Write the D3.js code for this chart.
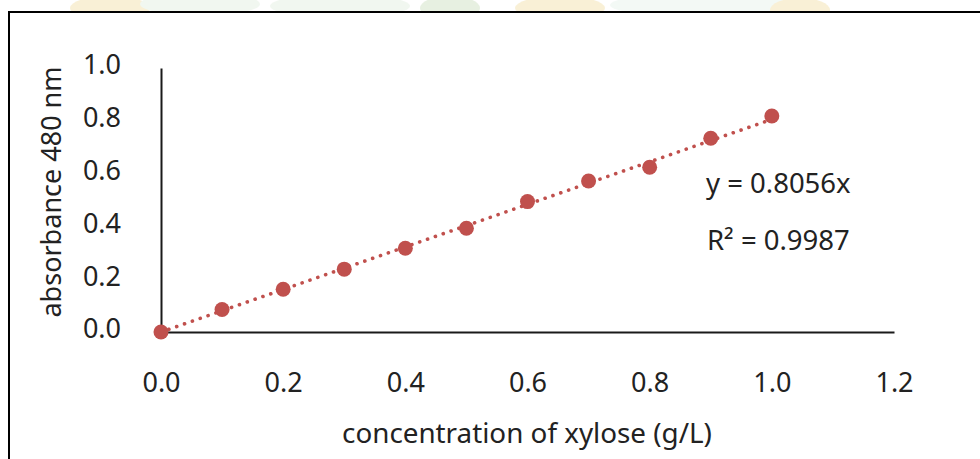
<!DOCTYPE html>
<html>
<head>
<meta charset="utf-8">
<script src="https://cdn.jsdelivr.net/npm/d3@7"></script>
<style>
  body { margin: 0; background: #fff; }
  svg text { font-family: "Noto Sans", "Open Sans", sans-serif; fill: #222; }
</style>
</head>
<body>
<svg id="chart" width="980" height="459"></svg>
<script>
const concentration = [0.0, 0.1, 0.2, 0.3, 0.4, 0.5, 0.6, 0.7, 0.8, 0.9, 1.0];
const absorbance = [0.0, 0.085, 0.162, 0.238, 0.317, 0.393, 0.494, 0.572, 0.624, 0.734, 0.818];
const xTicks = [0, 0.2, 0.4, 0.6, 0.8, 1.0, 1.2];
const yTicks = [0, 0.2, 0.4, 0.6, 0.8, 1.0];
const slope = 0.8056;
const rSquared = 0.9987;

const svg = d3.select('#chart');
const red = '#C0504D';
const fs = 27;

// faint watermark strip above the frame (clipped)
svg.append('clipPath').attr('id', 'top').append('rect').attr('width', 980).attr('height', 12);
const wm = svg.append('g').attr('clip-path', 'url(#top)').attr('opacity', 0.18);
[[110, 8, 40, '#e0b020'], [200, 4, 60, '#b8d8b0'], [340, 6, 70, '#b8d8b0'],
 [450, 8, 30, '#80b060'], [560, 8, 45, '#e0b020'], [700, 5, 90, '#c0e0cc'],
 [800, 10, 30, '#e0b020']].forEach(d => {
  wm.append('ellipse').attr('cx', d[0]).attr('cy', d[1]).attr('rx', d[2]).attr('ry', 12).attr('fill', d[3]);
});

// frame
svg.append('path')
  .attr('d', 'M9,459 L9,12 L980,12')
  .attr('fill', 'none').attr('stroke', '#000').attr('stroke-width', 2);

const x = d3.scaleLinear().domain([0, 1.2]).range([161, 894]);
const y = d3.scaleLinear().domain([0, 1.0]).range([332, 68]);

const xAxis = d3.axisBottom(x).tickValues(xTicks).tickSize(0).tickPadding(41).tickFormat(d3.format('.1f'));
const yAxis = d3.axisLeft(y).tickValues(yTicks).tickSize(0).tickPadding(40).tickFormat(d3.format('.1f'));

const gx = svg.append('g').attr('transform', 'translate(0,332)').call(xAxis);
const gy = svg.append('g').attr('transform', 'translate(161,0)').call(yAxis);
[gx, gy].forEach(g => {
  g.select('.domain').attr('stroke', '#1a1a1a').attr('stroke-width', 2);
  g.selectAll('text').attr('font-size', fs).attr('font-family', '"Noto Sans", sans-serif').attr('fill', '#222');
});
gy.selectAll('text').attr('dy', '0.22em');

// trendline
svg.append('line')
  .attr('x1', x(0)).attr('y1', y(0))
  .attr('x2', x(1.0)).attr('y2', y(slope * 1.0))
  .attr('stroke', red).attr('stroke-width', 3.6)
  .attr('stroke-linecap', 'round').attr('stroke-dasharray', '0.1 8.2');

// points
svg.selectAll('.pt')
  .data(concentration.map((c, i) => [c, absorbance[i]]))
  .enter().append('circle')
  .attr('class', 'pt')
  .attr('cx', d => x(d[0])).attr('cy', d => y(d[1]))
  .attr('r', 7.5).attr('fill', red);

// labels
svg.append('text')
  .attr('x', 706).attr('y', 193).attr('font-size', 27.5)
  .text(`y = ${slope}x`);
svg.append('text')
  .attr('x', 707).attr('y', 250).attr('font-size', 27.5)
  .text(`R² = ${rSquared}`);

svg.append('text')
  .attr('x', 527).attr('y', 443).attr('font-size', 27.8).attr('text-anchor', 'middle')
  .text('concentration of xylose (g/L)');
svg.append('text')
  .attr('transform', 'translate(61,192) rotate(-90)')
  .attr('font-size', fs).attr('text-anchor', 'middle')
  .text('absorbance 480 nm');
</script>
</body>
</html>
